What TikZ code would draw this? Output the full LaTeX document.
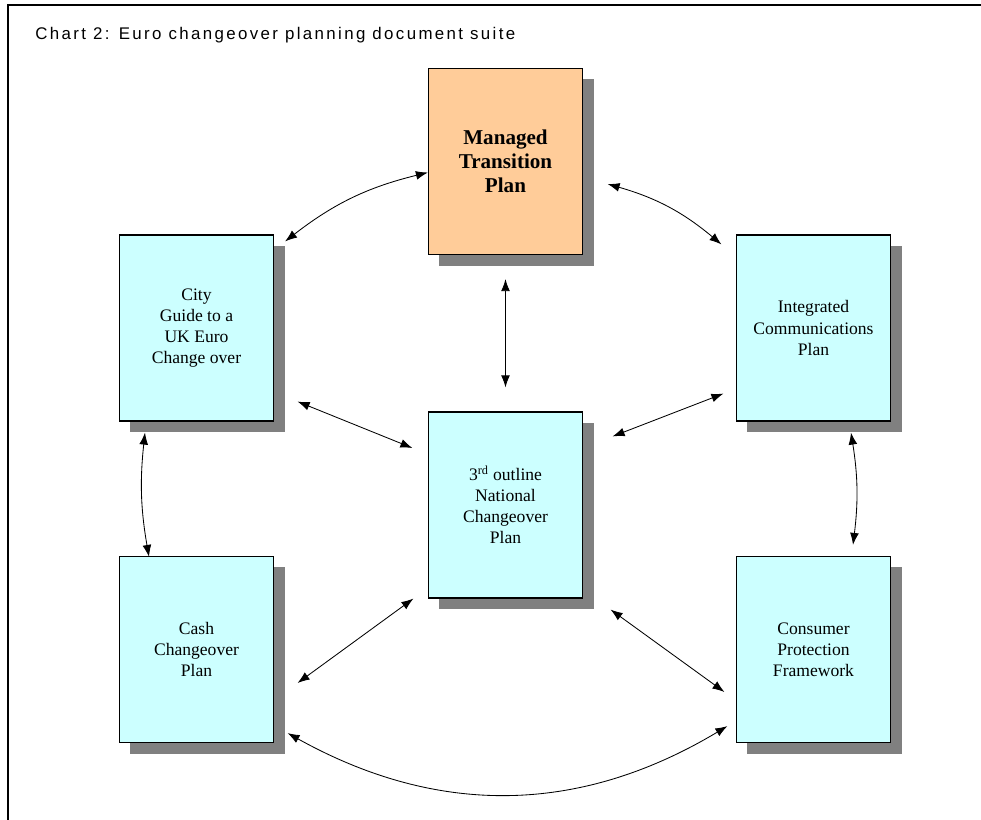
\documentclass[tikz,border=0pt]{standalone}
\usepackage{fontspec}
\setmainfont{Liberation Serif}
\newfontfamily\titlefont[LetterSpace=14]{Liberation Sans}
\usetikzlibrary{arrows.meta,shadows}
\definecolor{peach}{HTML}{FFCC99}
\definecolor{paleblue}{HTML}{CCFFFF}
\definecolor{shadowgray}{HTML}{808080}

\begin{document}
\begin{tikzpicture}[x=0.025cm,y=-0.025cm,
		doc/.style={draw=black,line width=0.8pt,fill=paleblue,minimum width=3.85cm,minimum height=4.65cm,inner sep=0pt,align=center,font=\fontsize{12.5}{15}\selectfont,drop shadow={shadow xshift=0.275cm,shadow yshift=-0.275cm,fill=shadowgray,opacity=1}},
		link/.style={line width=0.6pt,{Latex[length=0.3cm,width=0.22cm]}-{Latex[length=0.3cm,width=0.22cm]}}]
		\useasboundingbox (0,0) rectangle (981,820);
		\draw[line width=0.9pt] (8,820) -- (8,5) -- (981,5);
		\node[anchor=base west,inner sep=0pt,font=\titlefont\fontsize{12}{14}\selectfont] (title) at (35,40) {Chart 2: Euro changeover planning document suite};
		\node[doc,fill=peach,font=\fontsize{15}{17}\selectfont\bfseries] (mtp) at (505.5,161.5) {Managed\\Transition\\Plan};
		\node[doc] (city) at (196.5,328) {City\\Guide to a\\UK Euro\\Change over};
		\node[doc] (icp) at (813.5,328) {Integrated\\Communications\\Plan};
		\node[doc] (nco) at (505.5,505) {3\textsuperscript{rd} outline\\National\\Changeover\\Plan};
		\node[doc] (cash) at (196.5,649.5) {Cash\\Changeover\\Plan};
		\node[doc] (cpf) at (813.5,649.5) {Consumer\\Protection\\Framework};
		\draw[link] ([shift={(11,7)}]city.north east) to[bend left=12] ([shift={(0,11)}]mtp.west);
		\draw[link] ([shift={(24.5,22.5)}]mtp.east) to[bend left=12] ([shift={(-14.5,10)}]icp.north west);
		\draw[link,shorten <=0.6cm,shorten >=0.6cm] (mtp.south) -- (nco.north);
		\draw[link] ([shift={(23.5,-20)}]city.south east) -- ([shift={(-15.5,-57)}]nco.west);
		\draw[link] ([shift={(29.5,25)}]nco.north east) -- ([shift={(-12.5,-28)}]icp.south west);
		\draw[link] ([shift={(-14.5,0)}]nco.south west) -- ([shift={(23.5,33.5)}]cash.east);
		\draw[link] ([shift={(27.5,11)}]nco.south east) -- ([shift={(-11.5,42.5)}]cpf.west);
		\draw[link] ([shift={(-51.5,11)}]city.south) to[bend right=8] ([shift={(-47.5,1)}]cash.north);
		\draw[link] ([shift={(37.5,11)}]icp.south) to[bend left=8] ([shift={(39.5,-11)}]cpf.north);
		\draw[link] ([shift={(13.5,-10)}]cash.south east) to[bend right=30] ([shift={(-8.5,-17)}]cpf.south west);
	\end{tikzpicture}
\end{document}
